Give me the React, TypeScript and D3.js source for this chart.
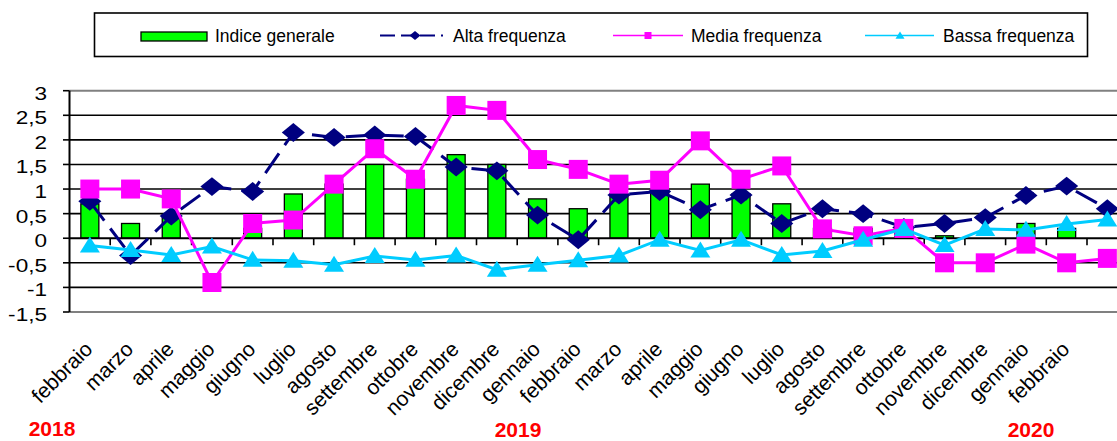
import React from "react";
import * as d3 from "d3";

const months = ["febbraio","marzo","aprile","maggio","giugno","luglio","agosto","settembre","ottobre","novembre","dicembre","gennaio","febbraio","marzo","aprile","maggio","giugno","luglio","agosto","settembre","ottobre","novembre","dicembre","gennaio","febbraio",""];
const indiceGenerale = [0.7,0.3,0.5,0,0.2,0.9,1.1,1.5,1.2,1.7,1.5,0.8,0.6,0.9,1.0,1.1,0.9,0.7,0.2,0.2,0.2,0.05,0,0.3,0.2,0];
const altaFrequenza = [0.75,-0.35,0.45,1.05,0.95,2.15,2.05,2.1,2.07,1.45,1.37,0.47,-0.03,0.88,0.95,0.58,0.88,0.3,0.6,0.5,0.22,0.3,0.42,0.87,1.06,0.6];
const mediaFrequenza = [1.0,1.0,0.8,-0.9,0.3,0.37,1.1,1.82,1.2,2.7,2.6,1.6,1.4,1.1,1.18,1.98,1.2,1.47,0.19,0.05,0.2,-0.5,-0.5,-0.12,-0.5,-0.41];
const bassaFrequenza = [-0.15,-0.24,-0.34,-0.17,-0.44,-0.46,-0.54,-0.36,-0.44,-0.35,-0.64,-0.54,-0.45,-0.35,-0.03,-0.25,-0.03,-0.34,-0.26,-0.03,0.19,-0.14,0.19,0.17,0.29,0.38];
const yTicks = [-1.5,-1,-0.5,0,0.5,1,1.5,2,2.5,3];
const years = [{ label: "2018", x: 52, y: 436 }, { label: "2019", x: 518, y: 436.5 }, { label: "2020", x: 1031, y: 436.5 }];
const legendItems = ["Indice generale", "Alta frequenza", "Media frequenza", "Bassa frequenza"];

const W = 1117, H = 441;
const FONT = "'Liberation Sans', Arial, Helvetica, sans-serif";
const GREEN = "#00ff00", NAVY = "#000080", MAGENTA = "#ff00ff", CYAN = "#00ccff";

const diamond = (s: number) => `M0,${-s * 0.45}L${s * 0.55},0L0,${s * 0.45}L${-s * 0.55},0Z`;
const square = (s: number) => `M${-s / 2},${-s / 2}h${s}v${s}h${-s}Z`;
const triangle = (s: number) => `M0,${-s * 0.45}L${s * 0.5},${s * 0.35}L${-s * 0.5},${s * 0.35}Z`;

export default function App() {
  const idx = d3.range(months.length);
  const x = d3.scaleBand<number>().domain(idx).range([69.5, 69.5 + months.length * 40.7]).padding(0);
  const y = d3.scaleLinear().domain([-1.5, 3]).range([312, 90.7]);
  const cx = (i: number) => (x(i) as number) + x.bandwidth() / 2;
  const line = d3.line<number>().x((_, i) => cx(i)).y((d) => y(d));
  const fmt = (v: number) => String(v).replace(".", ",");
  const barW = 18;
  const plotRight = 1130;

  return (
    <svg width={W} height={H} style={{ position: "absolute", left: 0, top: 0, background: "#fff" }} fontFamily={FONT}>
      {/* legend */}
      <rect x={94.5} y={13} width={993} height={43.5} fill="#fff" stroke="#000" strokeWidth={1.6} />
      <rect x={141} y={32} width={66} height={9} fill={GREEN} stroke="#000" strokeWidth={1.3} />
      <text x={215} y={41.5} fontSize={17.5}>{legendItems[0]}</text>
      <line x1={380} x2={448} y1={35.5} y2={35.5} stroke={NAVY} strokeWidth={2} strokeDasharray="15 6 13 6 15 6 2" />
      <path d={diamond(10)} transform="translate(415,35.5)" fill={NAVY} />
      <text x={453} y={41.5} fontSize={17.5}>{legendItems[1]}</text>
      <line x1={613} x2={683} y1={35.5} y2={35.5} stroke={MAGENTA} strokeWidth={1.5} />
      <path d={square(7)} transform="translate(648,35.5)" fill={MAGENTA} />
      <text x={691} y={41.5} fontSize={17.5}>{legendItems[2]}</text>
      <line x1={865} x2={934} y1={35.5} y2={35.5} stroke={CYAN} strokeWidth={1.5} />
      <path d={triangle(9)} transform="translate(900,35.5)" fill={CYAN} />
      <text x={943} y={41.5} fontSize={17.5}>{legendItems[3]}</text>

      {/* grid */}
      {yTicks.filter((v) => v !== 0 && v !== 3 && v !== -1.5).map((v) => (
        <line key={"g" + v} x1={69.5} x2={plotRight} y1={y(v)} y2={y(v)} stroke="#000" strokeWidth={1.6} />
      ))}
      <line x1={69.5} x2={plotRight} y1={y(3)} y2={y(3)} stroke="#808080" strokeWidth={2} />
      <line x1={69.5} x2={plotRight} y1={y(-1.5)} y2={y(-1.5)} stroke="#808080" strokeWidth={2} />

      {/* bars */}
      {indiceGenerale.map((v, i) => (
        v !== 0 ? <rect key={"b" + i} x={cx(i) - barW / 2} width={barW} y={Math.min(y(v), y(0))} height={Math.abs(y(v) - y(0))} fill={GREEN} stroke="#000" strokeWidth={1.3} /> : null
      ))}

      {/* x axis at 0 */}
      <line x1={69.5} x2={plotRight} y1={y(0)} y2={y(0)} stroke="#000" strokeWidth={2} />
      {idx.map((i) => (
        <line key={"xt" + i} x1={(x(i) as number) + x.bandwidth()} x2={(x(i) as number) + x.bandwidth()} y1={y(0)} y2={y(0) + 7} stroke="#000" strokeWidth={1.6} />
      ))}

      {/* y axis */}
      <line x1={69.5} x2={69.5} y1={y(3)} y2={y(-1.5)} stroke="#000" strokeWidth={2} />
      {yTicks.map((v) => (
        <g key={"yt" + v}>
          <line x1={63} x2={69.5} y1={y(v)} y2={y(v)} stroke="#000" strokeWidth={1.6} />
          <text transform={`translate(47,${y(v) + 9}) scale(1.22,1)`} textAnchor="end" fontSize={18.5}>{fmt(v)}</text>
        </g>
      ))}

      {/* Alta frequenza */}
      <path d={line(altaFrequenza) || ""} fill="none" stroke={NAVY} strokeWidth={3} strokeDasharray="24 10" />
      {altaFrequenza.map((v, i) => (
        <path key={"a" + i} d={diamond(21)} transform={`translate(${cx(i)},${y(v)})`} fill={NAVY} />
      ))}
      {/* Media frequenza */}
      <path d={line(mediaFrequenza) || ""} fill="none" stroke={MAGENTA} strokeWidth={3} />
      {mediaFrequenza.map((v, i) => (
        <path key={"m" + i} d={square(19)} transform={`translate(${cx(i)},${y(v)})`} fill={MAGENTA} />
      ))}
      {/* Bassa frequenza */}
      <path d={line(bassaFrequenza) || ""} fill="none" stroke={CYAN} strokeWidth={3} />
      {bassaFrequenza.map((v, i) => (
        <path key={"t" + i} d={triangle(20)} transform={`translate(${cx(i)},${y(v)})`} fill={CYAN} />
      ))}

      {/* x labels */}
      {months.map((m, i) => (
        <text key={"xl" + i} transform={`translate(${cx(i) + 4},350.5) rotate(-45)`} textAnchor="end" fontSize={21}>{m}</text>
      ))}

      {years.map((yr) => (
        <text key={yr.label} x={yr.x} y={yr.y} textAnchor="middle" fontSize={21} fontWeight="bold" fill="#ff0000">{yr.label}</text>
      ))}
    </svg>
  );
}
